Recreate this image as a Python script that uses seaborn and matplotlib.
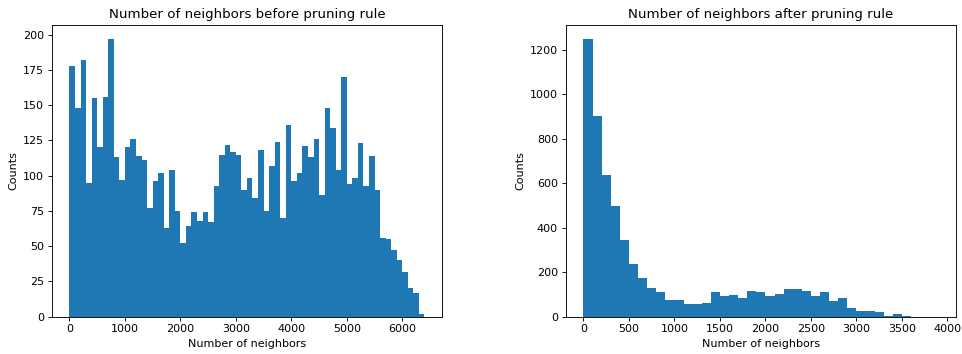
import numpy as np
import pandas as pd
import matplotlib
matplotlib.use("Agg")
import matplotlib.pyplot as plt
import seaborn as sns

# Histogram of neighbor counts before the pruning rule (bins of width 100)
before_range = (0, 6400)
before_counts = [
    178, 148, 182, 95, 155, 120, 156, 197, 113, 97,
    120, 126, 114, 111, 77, 96, 102, 63, 104, 75,
    52, 64, 74, 68, 74, 67, 93, 115, 122, 117,
    115, 90, 98, 84, 118, 75, 107, 124, 70, 136,
    96, 102, 121, 113, 126, 86, 148, 134, 104, 170,
    94, 98, 123, 93, 114, 90, 56, 55, 47, 40,
    32, 20, 17, 2,
]

# Histogram of neighbor counts after the pruning rule (bins of width 100)
after_range = (0, 3900)
after_counts = [
    1250, 904, 638, 498, 345, 237, 174, 129, 111, 75,
    75, 57, 57, 62, 111, 93, 98, 84, 116, 111,
    93, 102, 125, 125, 116, 93, 111, 71, 84, 39,
    26, 26, 21, 3, 12, 5, 0, 0, 0,
]
bin_width = 100

titles = ["Number of neighbors before pruning rule",
          "Number of neighbors after pruning rule"]
x_label = "Number of neighbors"
y_label = "Counts"

plt.rcParams["font.family"] = ["DejaVu Sans"]

fig = plt.figure(figsize=(962 / 80, 354 / 80), dpi=80)
ax1 = fig.add_axes([0.0537, 0.1054, 0.4060, 0.8240])
ax2 = fig.add_axes([0.5881, 0.1054, 0.4057, 0.8240])

datasets = [
    (ax1, before_range, before_counts),
    (ax2, after_range, after_counts),
]

for (ax, rng, counts), title in zip(datasets, titles):
    centers = np.arange(len(counts)) * bin_width + rng[0] + bin_width / 2
    df = pd.DataFrame({"neighbors": centers, "n": counts})
    sns.histplot(data=df, x="neighbors", weights="n", binwidth=bin_width,
                 binrange=rng, ax=ax, color="#1f77b4", alpha=1.0,
                 linewidth=0, edgecolor="none")
    ax.set_title(title, fontsize=12)
    ax.set_xlabel(x_label, fontsize=10)
    ax.set_ylabel(y_label, fontsize=10)
    ax.tick_params(labelsize=10)

ax1.set_xticks(np.arange(0, 6001, 1000))
ax1.set_yticks(np.arange(0, 201, 25))
ax2.set_xticks(np.arange(0, 4001, 500))
ax2.set_yticks(np.arange(0, 1201, 200))

fig.savefig("out.png", dpi=80)
